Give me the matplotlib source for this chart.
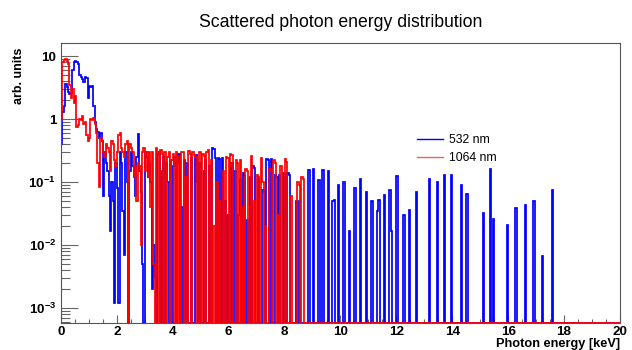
import numpy as np
import matplotlib
matplotlib.use('Agg')
import matplotlib.pyplot as plt
from matplotlib.lines import Line2D
import matplotlib.ticker as ticker

plt.rcParams['font.family'] = 'Liberation Sans'
plt.rcParams['mathtext.fontset'] = 'custom'
plt.rcParams['mathtext.rm'] = 'Liberation Sans'
plt.rcParams['mathtext.bf'] = 'Liberation Sans:bold'

# histogram binning (keV)
bin_width = 0.05
e_max = 20.0

# 532 nm, bins from 0 to 9 keV (one row per keV)
blue_dense = [
    0.4, 1.3, 1.6, 3.6, 3.2, 2.7, 2.5, 2.6, 6.0, 8.0, 8.3, 8.0, 7.6, 5.0, 4.6, 4.4, 3.9, 4.6, 4.5, 2.2,
    3.4, 3.2, 3.3, 1.6, 0.9, 0.7, 0.62, 0.5, 0.6, 0.45, 0.06, 0.3, 0.2, 0.15, 0.06, 0.017, 0.1, 0.05, 0.0012, 0.2,
    0.08, 0.0012, 0.3, 0.2, 0.035, 0.007, 0.3, 0.1, 0.0, 0.15, 0.3, 0.18, 0.12, 0.06, 0.25, 0.58, 0.15, 0.07, 0.005, 0.0,
    0.3, 0.25, 0.12, 0.2, 0.1, 0.002, 0.01, 0.003, 0.0, 0.28, 0.3, 0.0, 0.15, 0.25, 0.0, 0.2, 0.1, 0.0, 0.22, 0.0,
    0.18, 0.25, 0.0, 0.2, 0.28, 0.0, 0.04, 0.0, 0.22, 0.0, 0.2, 0.0, 0.0, 0.24, 0.0, 0.0, 0.27, 0.1, 0.0, 0.2,
    0.0, 0.0, 0.15, 0.22, 0.0, 0.0, 0.18, 0.0, 0.35, 0.33, 0.24, 0.0, 0.24, 0.23, 0.0, 0.24, 0.0, 0.05, 0.0, 0.03,
    0.0, 0.0, 0.2, 0.0, 0.15, 0.0, 0.0, 0.03, 0.11, 0.0, 0.14, 0.13, 0.0, 0.025, 0.0, 0.12, 0.0, 0.18, 0.17, 0.0,
    0.0, 0.11, 0.0, 0.0, 0.075, 0.07, 0.0, 0.23, 0.22, 0.0, 0.23, 0.0, 0.0, 0.13, 0.12, 0.0, 0.13, 0.0, 0.0, 0.14,
    0.0, 0.0, 0.14, 0.13, 0.0, 0.0, 0.0, 0.0, 0.05, 0.0, 0.05, 0.0, 0.0, 0.0, 0.0, 0.0, 0.0, 0.0, 0.0, 0.0,
]

# 532 nm, isolated lines above 8.7 keV
blue_peak_kev = [8.87, 9.03, 9.23, 9.37, 9.58, 9.74, 9.79, 9.93, 10.12, 10.33,
                 10.53, 10.72, 10.94, 11.13, 11.33, 11.38, 11.57, 11.77, 11.84, 12.03,
                 12.26, 12.49, 12.74, 13.20, 13.46, 13.73, 13.99, 14.30, 14.54, 15.10,
                 15.37, 15.46, 15.98, 16.29, 16.61, 16.93, 17.23, 17.58]
blue_peak_h = [0.155, 0.16, 0.107, 0.155, 0.15, 0.05, 0.052, 0.09, 0.1, 0.017,
               0.08, 0.11, 0.07, 0.05, 0.035, 0.052, 0.062, 0.075, 0.017, 0.125,
               0.03, 0.036, 0.07, 0.11, 0.1, 0.13, 0.13, 0.09, 0.065, 0.032,
               0.16, 0.026, 0.021, 0.039, 0.043, 0.05, 0.0066, 0.075]

# 1064 nm, bins from 0 to 9 keV
red_dense = [
    1.0, 8.2, 8.8, 9.0, 8.4, 7.6, 3.5, 2.2, 3.0, 1.8, 2.3, 0.75, 0.8, 1.0, 0.95, 1.1, 0.85, 0.9, 0.55, 0.45,
    0.5, 1.0, 0.95, 1.05, 0.85, 0.6, 0.2, 0.085, 0.5, 0.45, 0.3, 0.25, 0.4, 0.35, 0.3, 0.15, 0.45, 0.4, 0.22, 0.18,
    0.3, 0.55, 0.6, 0.35, 0.3, 0.25, 0.4, 0.45, 0.0, 0.4, 0.35, 0.3, 0.12, 0.18, 0.05, 0.2, 0.18, 0.01, 0.3, 0.35,
    0.15, 0.3, 0.12, 0.3, 0.04, 0.3, 0.005, 0.0, 0.35, 0.3, 0.0, 0.32, 0.28, 0.0, 0.3, 0.0, 0.25, 0.3, 0.0, 0.22,
    0.28, 0.0, 0.3, 0.0, 0.25, 0.0, 0.3, 0.3, 0.0, 0.12, 0.0, 0.31, 0.28, 0.0, 0.3, 0.27, 0.25, 0.0, 0.0, 0.3,
    0.0, 0.28, 0.26, 0.0, 0.3, 0.32, 0.0, 0.22, 0.0, 0.02, 0.0, 0.1, 0.0, 0.05, 0.0, 0.0, 0.15, 0.0, 0.25, 0.24,
    0.0, 0.28, 0.27, 0.0, 0.0, 0.22, 0.2, 0.0, 0.22, 0.0, 0.04, 0.0, 0.16, 0.15, 0.0, 0.04, 0.26, 0.0, 0.05, 0.0,
    0.13, 0.12, 0.0, 0.24, 0.1, 0.0, 0.02, 0.0, 0.0, 0.16, 0.15, 0.0, 0.22, 0.2, 0.0, 0.03, 0.0, 0.18, 0.0, 0.0,
    0.23, 0.21, 0.0, 0.0, 0.06, 0.0, 0.0, 0.0, 0.0, 0.1, 0.09, 0.0, 0.12, 0.11, 0.0, 0.0, 0.0, 0.0, 0.0, 0.0,
]

labels = ['532 nm', '1064 nm']

n_bins = int(round(e_max / bin_width))
edges = np.linspace(0, e_max, n_bins + 1)
blue = np.zeros(n_bins)
blue[:len(blue_dense)] = blue_dense
for e, h in zip(blue_peak_kev, blue_peak_h):
    blue[int(e / bin_width)] = h
red = np.zeros(n_bins)
red[:len(red_dense)] = red_dense

y_min, y_max = 5.85e-4, 15.9

fig = plt.figure(figsize=(6.32, 3.5), dpi=100)
ax = fig.add_axes([0.0965, 0.078, 0.8845, 0.798])

# empty bins drawn at the bottom of the frame, like ROOT does on log scale
ax.stairs(np.clip(blue, y_min, None), edges, baseline=y_min, color='blue', lw=1.25, zorder=2)
ax.stairs(np.clip(red, y_min, None), edges, baseline=None, color='red', lw=1.25, zorder=3)

ax.set_yscale('log')
ax.set_xlim(0, e_max)
ax.set_ylim(y_min, y_max)

def log_fmt(v, pos):
    p = int(round(np.log10(v)))
    if p == 0:
        return '1'
    if p == 1:
        return '10'
    return r'$\mathbf{10^{%d}}$' % p

ax.yaxis.set_major_locator(ticker.LogLocator(base=10))
ax.yaxis.set_minor_locator(ticker.LogLocator(base=10, subs=np.arange(2, 10)))
ax.yaxis.set_major_formatter(ticker.FuncFormatter(log_fmt))
ax.yaxis.set_minor_formatter(ticker.NullFormatter())
ax.xaxis.set_major_locator(ticker.MultipleLocator(2))
ax.xaxis.set_minor_locator(ticker.MultipleLocator(0.5))

ax.tick_params(axis='both', which='both', direction='in', colors='#666666',
               labelcolor='black', top=False, right=False, width=0.8)
ax.tick_params(axis='y', which='major', length=12, pad=3.5)
ax.tick_params(axis='y', which='minor', length=6.5)
ax.tick_params(axis='x', which='major', length=6, pad=2.5)
ax.tick_params(axis='x', which='minor', length=3)
for lab in ax.get_xticklabels() + ax.get_yticklabels():
    lab.set_fontweight('bold')
    lab.set_fontsize(9.7)

for sp in ax.spines.values():
    sp.set_color('#555555')
    sp.set_linewidth(0.8)

ax.set_title('Scattered photon energy distribution', fontsize=12.7, pad=12)
ax.set_xlabel('Photon energy [keV]', loc='right', fontweight='bold', fontsize=9.2)
ax.xaxis.set_label_coords(1.0, -0.054)
ax.set_ylabel('arb. units', loc='top', fontweight='bold', fontsize=9)
ax.yaxis.set_label_coords(-0.065, 0.985)

handles = [Line2D([], [], color='blue', lw=1.0), Line2D([], [], color='#f06060', lw=1.0)]
fig.legend(handles, labels, loc='upper left', bbox_to_anchor=(417 / 632, 1 - 134 / 350),
           frameon=False, fontsize=8.8, handlelength=2.1, handletextpad=0.55,
           labelspacing=0.5, borderpad=0, borderaxespad=0)

fig.savefig('out.png', dpi=100)
